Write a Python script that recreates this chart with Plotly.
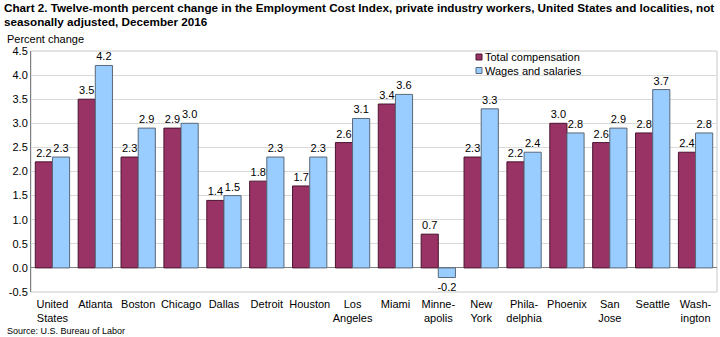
import plotly.graph_objects as go

categories = ["United<br>States", "Atlanta", "Boston", "Chicago", "Dallas", "Detroit", "Houston",
              "Los<br>Angeles", "Miami", "Minne-<br>apolis", "New<br>York", "Phila-<br>delphia",
              "Phoenix", "San<br>Jose", "Seattle", "Wash-<br>ington"]
total_comp = [2.2, 3.5, 2.3, 2.9, 1.4, 1.8, 1.7, 2.6, 3.4, 0.7, 2.3, 2.2, 3.0, 2.6, 2.8, 2.4]
wages = [2.3, 4.2, 2.9, 3.0, 1.5, 2.3, 2.3, 3.1, 3.6, -0.2, 3.3, 2.4, 2.8, 2.9, 3.7, 2.8]
y_ticks = [-0.5, 0.0, 0.5, 1.0, 1.5, 2.0, 2.5, 3.0, 3.5, 4.0, 4.5]
series_names = ["Total compensation", "Wages and salaries"]
series_colors = ["#993366", "#99ccff"]
series_edges = ["#4a1530", "#5a6878"]
title_lines = ["Chart 2. Twelve-month percent change in the Employment Cost Index, private industry workers, United States and localities, not",
               "seasonally adjusted, December 2016"]

font = "Liberation Sans, Arial, sans-serif"

W, H = 720, 337
ML, MR, MT, MB = 31, 3, 51, 45
PW, PH = W - ML - MR, H - MT - MB

def px_x(x):
    return (x - ML) / PW

def px_y(y):
    return 1 - (y - MT) / PH

fig = go.Figure()
for name, vals, col, edge in zip(series_names, [total_comp, wages], series_colors, series_edges):
    fig.add_trace(go.Bar(
        x=categories, y=vals, name=name,
        marker=dict(color=col, line=dict(color=edge, width=1)),
        text=[f"{v:.1f}" for v in vals], textposition="outside", constraintext="none",
        textfont=dict(size=11, color="#000000", family=font), cliponaxis=False,
    ))

fig.update_layout(
    width=W, height=H,
    margin=dict(l=ML, r=MR, t=MT, b=MB),
    paper_bgcolor="white", plot_bgcolor="white",
    font=dict(family=font, size=11, color="#000000"),
    barmode="group", bargap=0.2, bargroupgap=0,
    showlegend=False,
    xaxis=dict(showgrid=False, showline=False, ticks="", tickfont=dict(size=11, family=font),
               tickangle=0, ticklabelstandoff=4),
    yaxis=dict(range=[-0.5, 4.5], tickvals=y_ticks, ticktext=[f"{v:.1f}" for v in y_ticks],
               showgrid=True, gridcolor="#d9d9d9", gridwidth=1,
               zeroline=True, zerolinecolor="#808080", zerolinewidth=1,
               showline=True, linecolor="#808080", linewidth=1,
               ticks="", tickfont=dict(size=11, family=font)),
)

fig.add_shape(type="rect", xref="paper", yref="paper", x0=0, x1=1, y0=0, y1=1,
              line=dict(color="#c8c8c8", width=1), layer="below")

# manual compact legend
for i, (name, col, edge) in enumerate(zip(series_names, series_colors, series_edges)):
    cy = 57 + 13.5 * i
    fig.add_shape(type="rect", xref="paper", yref="paper",
                  x0=px_x(476), x1=px_x(482), y0=px_y(cy + 3), y1=px_y(cy - 3),
                  fillcolor=col, line=dict(color=edge, width=1))
    fig.add_annotation(text=name, xref="paper", yref="paper", x=px_x(483), y=px_y(cy),
                       xanchor="left", yanchor="middle", showarrow=False,
                       font=dict(size=11, family=font))

for i, line in enumerate(title_lines):
    fig.add_annotation(text=f"<b>{line}</b>", xref="paper", yref="paper", x=px_x(2), y=px_y(8 + 14 * i),
                       xanchor="left", yanchor="middle", showarrow=False, align="left",
                       font=dict(size=11.7, family=font))
fig.add_annotation(text="Percent change", xref="paper", yref="paper", x=px_x(5), y=px_y(39),
                   xanchor="left", yanchor="middle", showarrow=False, font=dict(size=11, family=font))
fig.add_annotation(text="Source: U.S. Bureau of Labor", xref="paper", yref="paper", x=px_x(5), y=px_y(331),
                   xanchor="left", yanchor="middle", showarrow=False, font=dict(size=9, family=font))

fig.write_html("out.html")
